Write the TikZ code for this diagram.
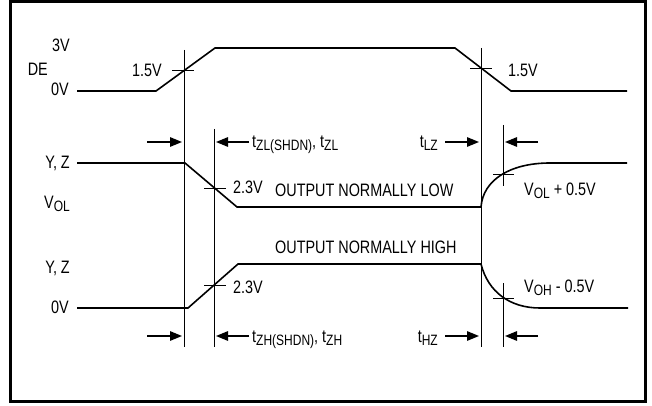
\documentclass[tikz,border=0pt]{standalone}
\usepackage{fontspec}
\setmainfont{Liberation Sans}[FakeStretch=0.80]
\usetikzlibrary{arrows.meta,positioning}
\newcommand{\sigfont}{\fontsize{18}{20}\selectfont}
\newcommand{\sbs}[1]{\raisebox{-0.22em}{\fontsize{15}{16}\selectfont #1}}
\tikzset{
  wave/.style={line width=1.6pt,line join=miter},
  guide/.style={line width=0.9pt},
  tickmark/.style={line width=0.9pt},
  lbl/.style={inner sep=0pt,font=\sigfont},
  dim/.style={-{Triangle[length=12pt,width=9.5pt]},line width=1.4pt},
  frame/.style={line width=2.5pt},
}

\begin{document}
\begin{tikzpicture}[x=1pt,y=-1pt]
\useasboundingbox (0,0) rectangle (652,406);
\draw[frame] (10.5,1.5) rectangle (645.5,401.5);

% DE waveform
\draw[wave] (77,91) -- (156,91) -- (215,48) -- (455,48) -- (511,91) -- (627,91);
% Y, Z normally low
\draw[wave] (77,163) -- (185,163) -- (237,207) -- (481,207)
  .. controls (483,180) and (510,163) .. (550,163) -- (627,163);
% Y, Z normally high
\draw[wave] (77,308) -- (188,308) -- (238,264) -- (481,264)
  .. controls (488,292) and (510,308) .. (540,308) -- (628,308);

% guide lines
\draw[guide] (184,50) -- (184,347);
\draw[guide] (214,129) -- (214,347);
\draw[guide] (481,48) -- (481,347);
\draw[guide] (503,125) -- (503,186);
\draw[guide] (503,283) -- (503,347);

% crossing marks
\draw[tickmark] (172,70) -- (194,70);
\draw[tickmark] (470,68) -- (492,68);
\draw[tickmark] (204,188) -- (226,188);
\draw[tickmark] (204,285) -- (226,285);
\draw[tickmark] (493,174) -- (514,174);
\draw[tickmark] (493,298) -- (514,298);

% timing arrows
\coordinate (zlA) at (147,142); \coordinate (zlB) at (182,142);
\coordinate (zlC) at (249,142); \coordinate (zlD) at (216,142);
\coordinate (lzA) at (445,142); \coordinate (lzB) at (479,142);
\coordinate (lzC) at (538,142); \coordinate (lzD) at (505,142);
\coordinate (zhA) at (147,336); \coordinate (zhB) at (182,336);
\coordinate (zhC) at (249,336); \coordinate (zhD) at (216,336);
\coordinate (hzA) at (445,336); \coordinate (hzB) at (479,336);
\coordinate (hzC) at (538,336); \coordinate (hzD) at (505,336);
\foreach \p in {zl,lz,zh,hz}{
  \draw[dim] (\p A) -- (\p B);
  \draw[dim] (\p C) -- (\p D);
}

% labels
\node[lbl,anchor=base east] (de) at (48,76) {DE};
\node[lbl,anchor=base west] (de3) at (52,52) {3V};
\node[lbl,anchor=base east] (de0) at (69,96) {0V};
\node[lbl,anchor=base east] (thA) at (162,77) {1.5V};
\node[lbl,anchor=base west] (thB) at (508,77) {1.5V};
\node[lbl,anchor=base east] (yzA) at (70,168) {Y, Z};
\node[lbl,anchor=base east] (vol) at (70,208) {V\sbs{OL}};
\node[lbl,anchor=base west] (lvA) at (233,193) {2.3V};
\node[lbl,anchor=base west] (nlow) at (275,196) {OUTPUT NORMALLY LOW};
\node[lbl,anchor=base west] (nhigh) at (275,253) {OUTPUT NORMALLY HIGH};
\node[lbl,anchor=base west] (volp) at (524,195) {V\sbs{OL} + 0.5V};
\node[lbl,anchor=base west] (tzl) at (252,147) {t\sbs{ZL(SHDN)}, t\sbs{ZL}};
\node[lbl,anchor=base east] (tlz) at (438,147) {t\sbs{LZ}};
\node[lbl,anchor=base east] (yzB) at (70,273) {Y, Z};
\node[lbl,anchor=base east] (yz0) at (69,313) {0V};
\node[lbl,anchor=base west] (lvB) at (233,293) {2.3V};
\node[lbl,anchor=base west] (vohm) at (524,292) {V\sbs{OH} - 0.5V};
\node[lbl,anchor=base west] (tzh) at (252,342) {t\sbs{ZH(SHDN)}, t\sbs{ZH}};
\node[lbl,anchor=base east] (thz) at (438,342) {t\sbs{HZ}};
\end{tikzpicture}
\end{document}
